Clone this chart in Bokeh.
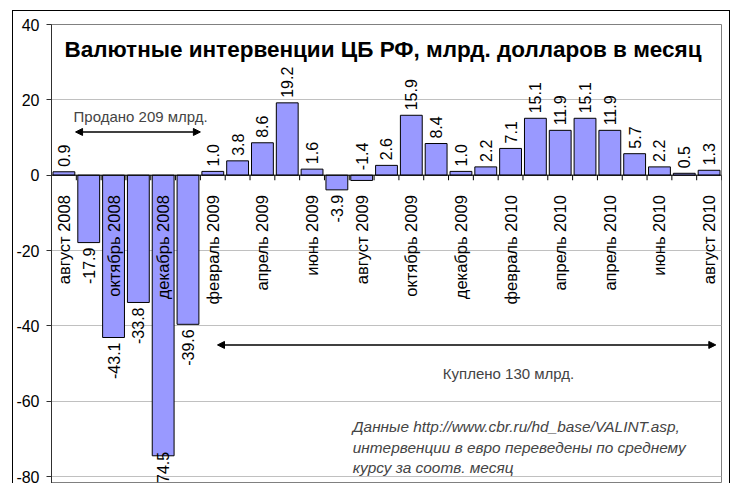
import numpy as np
from bokeh.plotting import figure
from bokeh.models import (Range1d, FixedTicker, Span, Label, LabelSet, Arrow,
                          NormalHead, ColumnDataSource, PrintfTickFormatter,
                          InlineStyleSheet)
from bokeh.core.properties import value
from bokeh.embed import file_html
from bokeh.resources import INLINE

# ---- data ----
values = [0.9, -17.9, -43.1, -33.8, -74.5, -39.6, 1.0, 3.8, 8.6, 19.2, 1.6,
          -3.9, -1.4, 2.6, 15.9, 8.4, 1.0, 2.2, 7.1, 15.1, 11.9, 15.1, 11.9,
          5.7, 2.2, 0.5, 1.3]
month_labels = ["август 2008", "", "октябрь 2008", "", "декабрь 2008", "",
                "февраль 2009", "", "апрель 2009", "", "июнь 2009", "",
                "август 2009", "", "октябрь 2009", "", "декабрь 2009", "",
                "февраль 2010", "", "апрель 2010", "", "апрель 2010", "",
                "июнь 2010", "", "август 2010"]
# value labels shown above the zero line although the value is negative
labels_above_zero = [12]
# value labels pushed up into the plot (index -> extra screen px)
label_nudge = {4: 9}
y_ticks = [-80, -60, -40, -20, 0, 20, 40]
title_text = "Валютные интервенции ЦБ РФ, млрд. долларов в месяц"
sold_text = "Продано 209 млрд."
bought_text = "Куплено 130 млрд."
note_lines = ["Данные http://www.cbr.ru/hd_base/VALINT.asp,",
              "интервенции в евро переведены по среднему",
              "курсу за соотв. месяц"]

FONT = value("Liberation Sans")
FONT_NAME = "Liberation Sans"
n = len(values)
xs = np.arange(n) + 0.5

up = [(v >= 0 or i in labels_above_zero) for i, v in enumerate(values)]
idx_up = [i for i in range(n) if up[i]]
idx_down = [i for i in range(n) if not up[i]]
src_up = ColumnDataSource(dict(
    x=[xs[i] for i in idx_up],
    y=[max(values[i], 0) for i in idx_up],
    t=[f"{values[i]:.1f}" for i in idx_up],
    off=[5 + label_nudge.get(i, 0) for i in idx_up]))
src_down = ColumnDataSource(dict(
    x=[xs[i] for i in idx_down],
    y=[values[i] for i in idx_down],
    t=[f"{values[i]:.1f}" for i in idx_down],
    off=[-5 + label_nudge.get(i, 0) for i in idx_down]))
src_cat = ColumnDataSource(dict(x=xs, y=[0] * n, t=month_labels))

frame_css = InlineStyleSheet(css="""
:host::after {
  content: "";
  position: absolute;
  left: 12px; top: 10px; width: 718px; height: 473px;
  border-left: 1px solid black; border-top: 1px solid black;
  border-right: 1px solid black; border-bottom: none;
  box-sizing: border-box; pointer-events: none;
}
""")

p = figure(width=731, height=483, output_backend="svg", toolbar_location=None,
           x_range=Range1d(0, n), y_range=Range1d(-80 - 7 / 3.7667, 40),
           min_border_left=51, min_border_right=10, min_border_top=24,
           min_border_bottom=0, stylesheets=[frame_css])
p.xaxis.visible = False
p.xgrid.visible = False
p.ygrid.ticker = FixedTicker(ticks=y_ticks)
p.ygrid.grid_line_color = "#c0c0c0"
p.outline_line_color = "#808080"
p.background_fill_color = "white"
p.border_fill_color = "white"

ya = p.yaxis[0]
ya.ticker = FixedTicker(ticks=y_ticks)
ya.formatter = PrintfTickFormatter(format="%d")
ya.major_label_text_font = FONT_NAME
ya.major_label_text_font_size = "16px"
ya.major_label_text_color = "black"
ya.major_tick_out = 5
ya.major_tick_in = 0
ya.minor_tick_line_color = None
ya.axis_line_color = "#303030"
ya.major_tick_line_color = "#303030"
ya.major_label_standoff = 7

# bars
p.vbar(x=xs, top=values, bottom=0, width=0.88, fill_color="#9999ff",
       line_color="black", line_width=1)

# zero line and its tick marks
p.add_layout(Span(location=0, dimension="width", line_color="black", line_width=1))
bx = np.arange(n + 1)
p.segment(x0=bx, y0=[0] * (n + 1), x1=bx, y1=[-1.35] * (n + 1),
          line_color="black", line_width=1)

# category labels (rotated, hanging below zero line)
p.add_layout(LabelSet(x="x", y="y", text="t", source=src_cat, angle=np.pi / 2,
                      text_align="right", text_baseline="middle", y_offset=-20,
                      text_font=FONT, text_font_size="16.5px", text_color="black"))
# value labels
p.add_layout(LabelSet(x="x", y="y", text="t", source=src_up, angle=np.pi / 2,
                      text_align="left", text_baseline="middle", y_offset="off",
                      text_font=FONT, text_font_size="16px", text_color="black"))
p.add_layout(LabelSet(x="x", y="y", text="t", source=src_down, angle=np.pi / 2,
                      text_align="right", text_baseline="middle", y_offset="off",
                      text_font=FONT, text_font_size="16px", text_color="black"))

# title
p.add_layout(Label(x=0.52, y=33.33, text=title_text, text_font=FONT_NAME,
                   text_font_style="bold", text_font_size="22.5px",
                   text_baseline="alphabetic", text_color="black"))
# sold annotation
p.add_layout(Label(x=0.89, y=15.47, text=sold_text, text_font=FONT_NAME,
                   text_font_size="15px", text_baseline="alphabetic"))
p.add_layout(Arrow(x_start=0.97, y_start=11.47, x_end=6.0, y_end=11.47,
                   start=NormalHead(size=7, fill_color="black", line_color="black"),
                   end=NormalHead(size=7, fill_color="black", line_color="black"),
                   line_color="black", line_width=1.5))
# bought annotation
p.add_layout(Label(x=15.77, y=-52.53, text=bought_text, text_font=FONT_NAME,
                   text_font_size="15px", text_baseline="alphabetic"))
p.add_layout(Arrow(x_start=6.69, y_start=-45.07, x_end=26.77, y_end=-45.07,
                   start=NormalHead(size=7, fill_color="black", line_color="black"),
                   end=NormalHead(size=7, fill_color="black", line_color="black"),
                   line_color="black", line_width=1.5))
# note
for line, yy in zip(note_lines, [-66.67, -72.2, -77.5]):
    p.add_layout(Label(x=12.14, y=yy, text=line, text_font=FONT_NAME,
                       text_font_style="italic", text_font_size="15.4px",
                       text_baseline="alphabetic"))

open("out.html", "w").write(file_html(p, INLINE))
